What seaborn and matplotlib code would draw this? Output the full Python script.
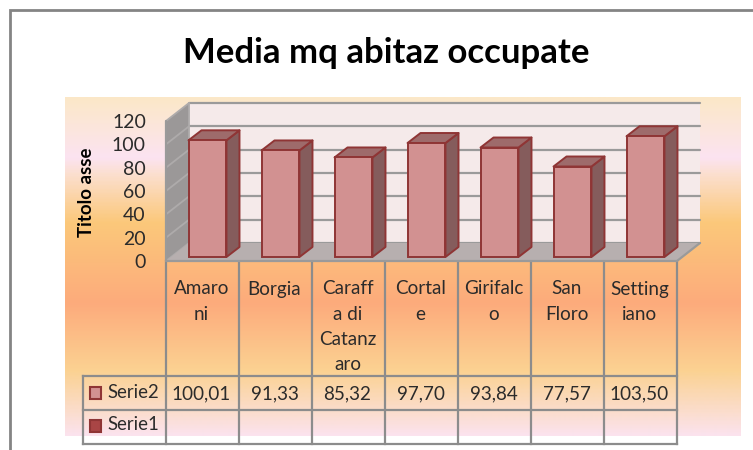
import matplotlib
matplotlib.use("Agg")
import matplotlib.pyplot as plt
import numpy as np
import seaborn as sns
from matplotlib.colors import LinearSegmentedColormap
from matplotlib.patches import Polygon, Rectangle
from matplotlib.transforms import Affine2D

# ---- data ----
categories = ["Amaroni", "Borgia", "Caraffa di Catanzaro", "Cortale", "Girifalco", "San Floro", "Settingiano"]
wrapped_labels = ["Amaro\nni", "Borgia", "Caraff\na di\nCatanz\naro", "Cortal\ne", "Girifalc\no", "San\nFloro", "Setting\niano"]
serie2_values = [100.01, 91.33, 85.32, 97.70, 93.84, 77.57, 103.50]
serie2_labels = ["100,01", "91,33", "85,32", "97,70", "93,84", "77,57", "103,50"]
y_ticks = [0, 20, 40, 60, 80, 100, 120]
title = "Media mq abitaz occupate"
y_title = "Titolo asse"
series_names = ["Serie2", "Serie1"]

# ---- style ----
W, H, DPI = 753, 450, 100
FONT = "Lato"
TXT = "#2b2b2b"
GRID = "#9a9a9a"
TABLE = "#8c8c8c"
FRONT, EDGE, SIDE, TOP = "#d29191", "#8f3535", "#855c5c", "#9e6b6b"
L, R, Y0, Y120 = 166, 677, 261, 121     # front plane of the plot, pixels
WALL_DX, WALL_DY = 23, 18               # depth of the box, pixels
BAR_DX, BAR_DY = 5, 4                   # bars stand slightly behind the front
DEP_DX, DEP_DY = 13, 10                 # depth of a bar

sns.set_style("white")
plt.rcParams["font.family"] = [FONT, "DejaVu Sans"]
fig = plt.figure(figsize=(W / DPI, H / DPI), dpi=DPI, facecolor="white")

# full-figure layer in pixel units: background, frame, table
bg = fig.add_axes([0, 0, 1, 1], zorder=0)
bg.set_xlim(0, W)
bg.set_ylim(H, 0)
bg.axis("off")
stops = [(0.0, "#fbe8c8"), (0.177, "#fce3f1"), (0.225, "#fbdfcf"), (0.37, "#fbc87a"),
         (0.61, "#fdab7c"), (0.81, "#fbd292"), (1.0, "#fbe3ee")]
cmap = LinearSegmentedColormap.from_list("sunset", stops)
bg.imshow(np.linspace(0, 1, 340)[:, None], cmap=cmap, aspect="auto", extent=(65, 741, 436, 97), zorder=0)
bg.set_xlim(0, W)
bg.set_ylim(H, 0)
bg.plot([10, 10, W], [H, 10, 10], color="#848484", lw=2, zorder=1, solid_joinstyle="miter")

# table
step = (R - L) / len(categories)
col_x = [L + i * step for i in range(len(categories) + 1)]
ROW0, ROW1, ROW2 = 376, 410, 444
LEG_L = 83.5
kw = dict(color=TABLE, lw=1.6, zorder=2, solid_capstyle="projecting")
for x in col_x:
    bg.plot([x, x], [Y0, ROW2], **kw)
bg.plot([LEG_L, LEG_L], [ROW0, ROW2], **kw)
for y in (ROW0, ROW1, ROW2):
    bg.plot([LEG_L, R], [y, y], **kw)
for i, lab in enumerate(wrapped_labels):
    cx = L + (i + 0.5) * step - 1
    bg.text(cx, 280.5, lab, ha="center", va="top", fontsize=13.6, color=TXT, linespacing=1.58, zorder=3)
    bg.text(cx, 393.5, serie2_labels[i], ha="center", va="center", fontsize=13.6, color=TXT, zorder=3)
for name, y, col, ec in ((series_names[0], 393, FRONT, EDGE), (series_names[1], 426, "#a94545", EDGE)):
    bg.add_patch(Rectangle((90.5, y - 6), 11, 12, fc=col, ec=ec, lw=1.5, zorder=3))
    bg.text(107, y - 1, name, ha="left", va="center", fontsize=13.4, color=TXT, zorder=3)

bg.text(386, 53, title, ha="center", va="center", fontsize=25, fontweight="bold", color="black", zorder=3)
bg.text(87, 192, y_title, ha="center", va="center", rotation=90, fontsize=13.4, fontweight="bold", color="black", zorder=3)

# main plot on the front plane
ax = fig.add_axes([L / W, 1 - Y0 / H, (R - L) / W, (Y0 - Y120) / H], zorder=1)
ax.patch.set_visible(False)
sns.barplot(x=categories, y=serie2_values, width=0.52, color=FRONT, saturation=1,
            edgecolor=EDGE, linewidth=1.4, ax=ax, zorder=5)
ax.set_xlim(-0.5, len(categories) - 0.5)
ax.set_ylim(0, y_ticks[-1])
sns.despine(ax=ax, left=True, bottom=True)
ax.set_xticks([])
ax.set_yticks(y_ticks)
ax.set_yticklabels([str(t) for t in y_ticks], fontsize=14, color=TXT)
ax.tick_params(axis="y", length=0, pad=14.5)
ax.set_xlabel("")
ax.set_ylabel("")

sx = (R - L) / len(categories)
sy = (Y0 - Y120) / y_ticks[-1]
wx, wy = WALL_DX / sx, WALL_DY / sy
x0, x1 = ax.get_xlim()
ytop = y_ticks[-1]


def poly(pts, fc, z, ec="none", lw=0.0, trans=None):
    ax.add_patch(Polygon(pts, closed=True, fc=fc, ec=ec, lw=lw, zorder=z, clip_on=False,
                         transform=trans if trans is not None else ax.transData, joinstyle="round"))


# box: back wall, side wall, floor
poly([(x0 + wx, wy), (x1 + wx, wy), (x1 + wx, ytop + wy), (x0 + wx, ytop + wy)], "#f5eaea", 1)
poly([(x0, 0), (x0 + wx, wy), (x0 + wx, ytop + wy), (x0, ytop)], "#9b9898", 1)
poly([(x0, 0), (x1, 0), (x1 + wx, wy), (x0 + wx, wy)], "#b7afaf", 2)
for t in y_ticks:
    ax.plot([x0 + wx, x1 + wx], [t + wy, t + wy], color=GRID, lw=1.6, zorder=1.5, clip_on=False)
    ax.plot([x0, x0 + wx], [t, t + wy], color="#aeabab", lw=1.3, zorder=1.5, clip_on=False)
ax.plot([x0, x0], [0, ytop], color=GRID, lw=1.6, zorder=1.5, clip_on=False)
ax.plot([x0 + wx, x0 + wx], [0 + wy, ytop + wy], color="#aeabab", lw=1.3, zorder=1.5, clip_on=False)
ax.plot([x1, x1 + wx], [0, wy], color=GRID, lw=1.6, zorder=2.5, clip_on=False)
ax.plot([x0, x1], [0, 0], color=GRID, lw=1.6, zorder=2.5, clip_on=False)

# bars: shift the library's bars back, then add their top and side faces
shift = ax.transData + Affine2D().translate(BAR_DX, BAR_DY)
dx, dy = DEP_DX / sx, DEP_DY / sy
for bar in list(ax.patches):
    if not isinstance(bar, Rectangle) or bar.get_zorder() != 5:
        continue
    bx, bw, bh = bar.get_x(), bar.get_width(), bar.get_height()
    bar.set_transform(shift)
    bar.set_clip_on(False)
    poly([(bx + bw, 0), (bx + bw + dx, dy), (bx + bw + dx, bh + dy), (bx + bw, bh)], SIDE, 4, EDGE, 1.4, shift)
    poly([(bx, bh), (bx + bw, bh), (bx + bw + dx, bh + dy), (bx + dx, bh + dy)], TOP, 4, EDGE, 1.4, shift)

fig.savefig("out.png", dpi=DPI, facecolor="white")
